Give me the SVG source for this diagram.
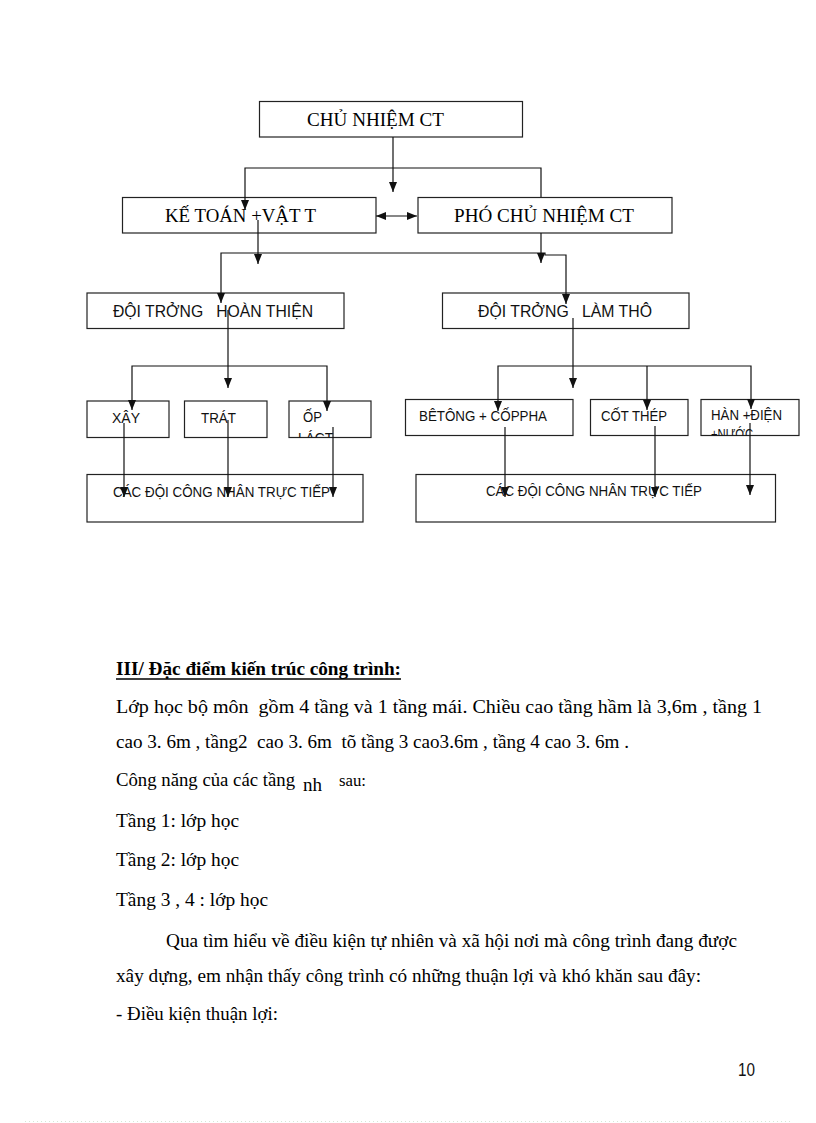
<svg xmlns="http://www.w3.org/2000/svg" width="816" height="1123" viewBox="0 0 816 1123">
<style>
.box{fill:#fff;stroke:#222;stroke-width:1.2}
.ser{font-family:"Liberation Serif","Times New Roman",serif;fill:#000}
.san{font-family:"Liberation Sans",Arial,sans-serif;fill:#111}
.t1{font-size:19px}
.t2{font-size:16px}
.t3{font-size:15px}
.body{font-size:19px}
.con{fill:none;stroke:#111;stroke-width:1.2}
</style>
<defs>
<marker id="ah" viewBox="0 0 10 8" refX="10" refY="4" markerWidth="10" markerHeight="8" markerUnits="userSpaceOnUse" orient="auto-start-reverse">
<path d="M0,0 L10,4 L0,8 z" fill="#111"/>
</marker>
<clipPath id="cOp"><rect x="289" y="401" width="82" height="36.5"/></clipPath>
<clipPath id="cHan"><rect x="701" y="399.5" width="98" height="36"/></clipPath>
</defs>
<rect width="816" height="1123" fill="#fff"/>

<g id="n-chunhiem">
<rect class="box" x="259.5" y="101.5" width="263" height="35.5"/>
<text class="ser t1" x="307" y="126" textLength="137" lengthAdjust="spacingAndGlyphs">CHỦ NHIỆM CT</text>
</g>
<g id="n-ketoan">
<rect class="box" x="122.5" y="197.5" width="253.5" height="35.5"/>
<text class="ser t1" x="165" y="222" textLength="151" lengthAdjust="spacingAndGlyphs">KẾ TOÁN +VẬT T</text>
</g>
<g id="n-pho">
<rect class="box" x="418" y="197.5" width="254" height="35.5"/>
<text class="ser t1" x="454" y="222" textLength="180" lengthAdjust="spacingAndGlyphs">PHÓ CHỦ NHIỆM CT</text>
</g>
<g id="n-doi-hoanthien">
<rect class="box" x="87" y="293" width="257" height="35.5"/>
<text class="san t2" x="113" y="317" textLength="200" lengthAdjust="spacingAndGlyphs" xml:space="preserve">ĐỘI TRỞNG   HOÀN THIỆN</text>
</g>
<g id="n-doi-lamtho">
<rect class="box" x="442.5" y="293" width="246.5" height="35.5"/>
<text class="san t2" x="478" y="317" textLength="174" lengthAdjust="spacingAndGlyphs" xml:space="preserve">ĐỘI TRỞNG   LÀM THÔ</text>
</g>
<g id="n-xay">
<rect class="box" x="87" y="401" width="82" height="36.5"/>
<text class="san t3" x="112" y="423" textLength="28" lengthAdjust="spacingAndGlyphs">XÂY</text>
</g>
<g id="n-trat">
<rect class="box" x="184.5" y="401" width="82.5" height="36.5"/>
<text class="san t3" x="201" y="423" textLength="35" lengthAdjust="spacingAndGlyphs">TRÁT</text>
</g>
<g id="n-oplat">
<rect class="box" x="289" y="401" width="82" height="36.5"/>
<g clip-path="url(#cOp)">
<text class="san t3" x="303" y="422" textLength="19" lengthAdjust="spacingAndGlyphs">ỐP</text>
<text class="san t3" x="298" y="443" textLength="35" lengthAdjust="spacingAndGlyphs">LÁCT</text>
</g>
</g>
<g id="n-betong">
<rect class="box" x="405.5" y="399.5" width="167.5" height="36"/>
<text class="san t3" x="419" y="421" textLength="128" lengthAdjust="spacingAndGlyphs">BÊTÔNG + CỐPPHA</text>
</g>
<g id="n-cotthep">
<rect class="box" x="590.5" y="399.5" width="97.5" height="36"/>
<text class="san t3" x="601" y="421" textLength="66" lengthAdjust="spacingAndGlyphs">CỐT THÉP</text>
</g>
<g id="n-han">
<rect class="box" x="701" y="399.5" width="98" height="36"/>
<g clip-path="url(#cHan)">
<text class="san t3" x="711" y="420" textLength="71" lengthAdjust="spacingAndGlyphs">HÀN +ĐIỆN</text>
<text class="san t3" x="711" y="439" textLength="42" lengthAdjust="spacingAndGlyphs">+NƯỚC</text>
</g>
</g>
<g id="n-cacdoi-trai">
<rect class="box" x="87" y="474.5" width="276" height="47.5"/>
<text class="san t3" x="113" y="497" textLength="217" lengthAdjust="spacingAndGlyphs">CÁC ĐỘI CÔNG NHÂN TRỰC TIẾP</text>
</g>
<g id="n-cacdoi-phai">
<rect class="box" x="416" y="474.5" width="359.5" height="47.5"/>
<text class="san t3" x="486" y="496" textLength="216" lengthAdjust="spacingAndGlyphs">CÁC ĐỘI CÔNG NHÂN TRỰC TIẾP</text>
</g>

<g id="connectors">
<path class="con" d="M393,137 V192" marker-end="url(#ah)"/>
<path class="con" d="M541,197 V168 H245 V210" marker-end="url(#ah)"/>
<path class="con" d="M376,216 L417,216" marker-start="url(#ah)" marker-end="url(#ah)"/>
<path class="con" d="M258,220 V264" marker-end="url(#ah)"/>
<path class="con" d="M541,233 V263" marker-end="url(#ah)"/>
<path class="con" d="M393,253 H221 V303" marker-end="url(#ah)"/>
<path class="con" d="M393,253 H545 L545,255 H566 V304" marker-end="url(#ah)"/>
<path class="con" d="M228,310 V388" marker-end="url(#ah)"/>
<path class="con" d="M228,366 H132 V410" marker-end="url(#ah)"/>
<path class="con" d="M228,366 H327 V411" marker-end="url(#ah)"/>
<path class="con" d="M124,423 V497" marker-end="url(#ah)"/>
<path class="con" d="M228,420 V497" marker-end="url(#ah)"/>
<path class="con" d="M333,427 V497" marker-end="url(#ah)"/>
<path class="con" d="M573,318 V388" marker-end="url(#ah)"/>
<path class="con" d="M647,366 H498 V411" marker-end="url(#ah)"/>
<path class="con" d="M647,366 V410" marker-end="url(#ah)"/>
<path class="con" d="M647,366 H751 V409" marker-end="url(#ah)"/>
<path class="con" d="M505,427 V497" marker-end="url(#ah)"/>
<path class="con" d="M655,426 V497" marker-end="url(#ah)"/>
<path class="con" d="M750,423 V495" marker-end="url(#ah)"/>
</g>

<g id="text-body">
<text class="ser body" x="116" y="675" font-weight="bold" textLength="285" lengthAdjust="spacingAndGlyphs">III/ Đặc điểm kiến trúc công trình:</text>
<line x1="116" y1="679" x2="401" y2="679" stroke="#000" stroke-width="1.6"/>
<text class="ser body" x="116" y="713" textLength="646" lengthAdjust="spacingAndGlyphs" xml:space="preserve">Lớp học bộ môn  gồm 4 tầng và 1 tầng mái. Chiều cao tầng hầm là 3,6m , tầng 1</text>
<text class="ser body" x="116" y="748" textLength="513" lengthAdjust="spacingAndGlyphs" xml:space="preserve">cao 3. 6m , tầng2  cao 3. 6m  tõ tầng 3 cao3.6m , tầng 4 cao 3. 6m .</text>
<text class="ser body" x="116" y="786" textLength="179" lengthAdjust="spacingAndGlyphs">Công năng của các tầng</text>
<text class="ser body" x="303" y="791" textLength="19" lengthAdjust="spacingAndGlyphs">nh</text>
<text class="ser" font-size="17" x="339" y="786" textLength="27" lengthAdjust="spacingAndGlyphs">sau:</text>
<text class="ser body" x="116" y="827" textLength="123" lengthAdjust="spacingAndGlyphs">Tầng 1: lớp học</text>
<text class="ser body" x="116" y="866" textLength="123" lengthAdjust="spacingAndGlyphs">Tầng 2: lớp học</text>
<text class="ser body" x="116" y="906" textLength="152" lengthAdjust="spacingAndGlyphs">Tầng 3 , 4 : lớp học</text>
<text class="ser body" x="166" y="947" textLength="571" lengthAdjust="spacingAndGlyphs">Qua tìm hiểu về điều kiện tự nhiên và xã hội nơi mà công trình đang được</text>
<text class="ser body" x="116" y="982" textLength="585" lengthAdjust="spacingAndGlyphs">xây dựng, em nhận thấy công trình có những thuận lợi và khó khăn sau đây:</text>
<text class="ser body" x="116" y="1020" textLength="162" lengthAdjust="spacingAndGlyphs">- Điều kiện thuận lợi:</text>
<text class="san" font-size="19" x="738" y="1076" textLength="17" lengthAdjust="spacingAndGlyphs">10</text>
<line x1="25" y1="1121.5" x2="792" y2="1121.5" stroke="#d6e6d6" stroke-width="1" stroke-dasharray="1 3"/>
</g>
</svg>
